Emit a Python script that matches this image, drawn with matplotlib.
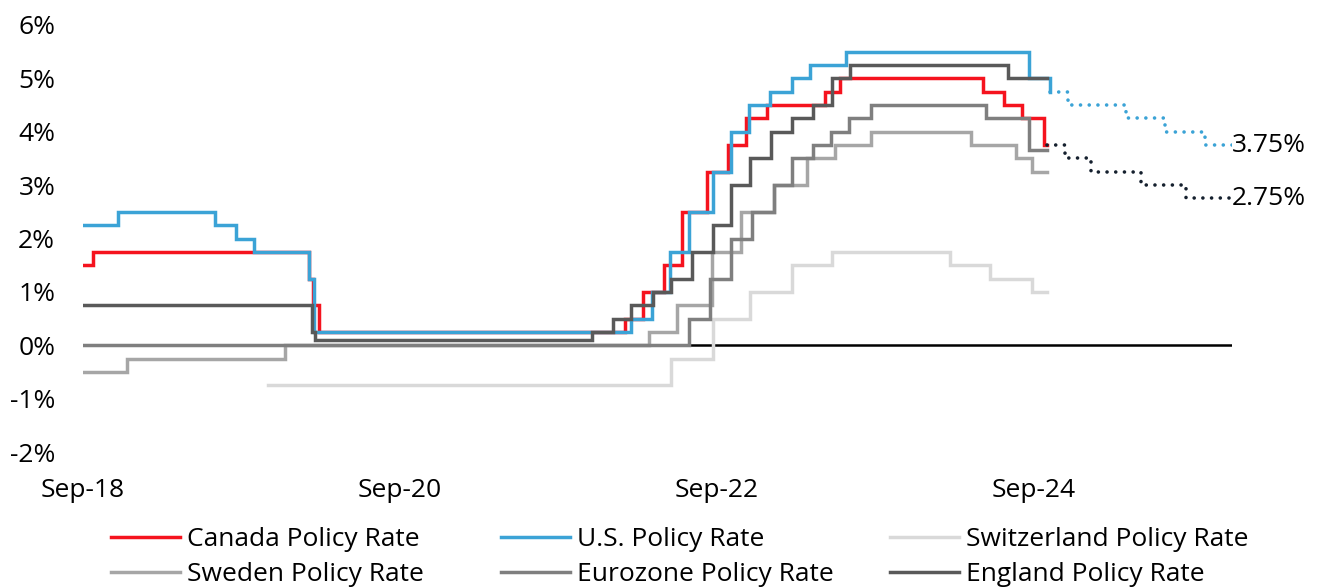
"""
Policy rates of six central banks, Sep-2018 onward, with two dotted
forecast paths (U.S. and Canada) running out to the end of 2025.
"""

import matplotlib.pyplot as plt
import pandas as pd
from matplotlib.ticker import FuncFormatter

plt.rcParams["font.family"] = ["Open Sans", "DejaVu Sans"]

OUT_PATH = "out.png"

START = "2018-09-30"
END_ACTUAL = "2024-10-31"
END_FCST = "2025-12-31"

# change dates and the rate that applies from that date on
CANADA_DATES = ["2018-09-30", "2018-10-24", "2020-03-04", "2020-03-13", "2020-03-27",
                "2022-03-02", "2022-04-13", "2022-06-01", "2022-07-13", "2022-09-07",
                "2022-10-26", "2022-12-07", "2023-01-25", "2023-06-07", "2023-07-12",
                "2024-06-05", "2024-07-24", "2024-09-04", "2024-10-23"]
CANADA_RATES = [1.50, 1.75, 1.25, 0.75, 0.25,
                0.50, 1.00, 1.50, 2.50, 3.25,
                3.75, 4.25, 4.50, 4.75, 5.00,
                4.75, 4.50, 4.25, 3.75]

US_DATES = ["2018-09-30", "2018-12-19", "2019-07-31", "2019-09-18", "2019-10-30",
            "2020-03-03", "2020-03-15", "2022-03-16", "2022-05-04", "2022-06-15",
            "2022-07-27", "2022-09-21", "2022-11-02", "2022-12-14", "2023-02-01",
            "2023-03-22", "2023-05-03", "2023-07-26", "2024-09-18", "2024-11-07"]
US_RATES = [2.25, 2.50, 2.25, 2.00, 1.75,
            1.25, 0.25, 0.50, 1.00, 1.75,
            2.50, 3.25, 4.00, 4.50, 4.75,
            5.00, 5.25, 5.50, 5.00, 4.75]

SWISS_DATES = ["2019-11-30", "2022-06-16", "2022-09-22", "2022-12-15", "2023-03-23",
               "2023-06-22", "2024-03-21", "2024-06-20", "2024-09-26"]
SWISS_RATES = [-0.75, -0.25, 0.50, 1.00, 1.50,
               1.75, 1.50, 1.25, 1.00]

SWEDEN_DATES = ["2018-09-30", "2019-01-09", "2020-01-08", "2022-04-28", "2022-06-30",
                "2022-09-20", "2022-11-24", "2023-02-08", "2023-04-26", "2023-06-29",
                "2023-09-20", "2024-05-08", "2024-08-20", "2024-09-25"]
SWEDEN_RATES = [-0.50, -0.25, 0.00, 0.25, 0.75,
                1.75, 2.50, 3.00, 3.50, 3.75,
                4.00, 3.75, 3.50, 3.25]

EURO_DATES = ["2018-09-30", "2022-07-27", "2022-09-14", "2022-11-02", "2022-12-21",
              "2023-02-08", "2023-03-22", "2023-05-10", "2023-06-21", "2023-08-02",
              "2023-09-20", "2024-06-12", "2024-09-18"]
EURO_RATES = [0.00, 0.50, 1.25, 2.00, 2.50,
              3.00, 3.50, 3.75, 4.00, 4.25,
              4.50, 4.25, 3.65]

ENGLAND_DATES = ["2018-09-30", "2020-03-11", "2020-03-19", "2021-12-16", "2022-02-03",
                 "2022-03-17", "2022-05-05", "2022-06-16", "2022-08-04", "2022-09-22",
                 "2022-11-03", "2022-12-15", "2023-02-02", "2023-03-23", "2023-05-11",
                 "2023-06-22", "2023-08-03", "2024-08-01"]
ENGLAND_RATES = [0.75, 0.25, 0.10, 0.25, 0.50,
                 0.75, 1.00, 1.25, 1.75, 2.25,
                 3.00, 3.50, 4.00, 4.25, 4.50,
                 5.00, 5.25, 5.00]

US_FCST_DATES = ["2024-11-07", "2024-12-18", "2025-04-30", "2025-07-30", "2025-10-29"]
US_FCST_RATES = [4.75, 4.50, 4.25, 4.00, 3.75]

CANADA_FCST_DATES = ["2024-10-31", "2024-12-11", "2025-02-10", "2025-06-04", "2025-09-17"]
CANADA_FCST_RATES = [3.75, 3.50, 3.25, 3.00, 2.75]

X_TICKS = ["2018-09-30", "2020-09-30", "2022-09-30", "2024-09-30"]
X_TICK_LABELS = ["Sep-18", "Sep-20", "Sep-22", "Sep-24"]
Y_TICKS = [-2, -1, 0, 1, 2, 3, 4, 5, 6]

RED = "#F5131E"
BLUE = "#3BA3D6"
SWISS_GREY = "#D9D9D9"
SWEDEN_GREY = "#A6A6A6"
EURO_GREY = "#7F7F7F"
ENGLAND_GREY = "#595959"
NAVY = "#15202E"

LW = 2.5
FS = 19


def steps(dates, rates, end=None):
    """Turn change points into a series that steps-post can draw to `end`."""
    x = list(pd.to_datetime(dates))
    y = list(rates)
    if end is not None:
        x.append(pd.Timestamp(end))
        y.append(y[-1])
    return x, y


def main() -> None:
    fig = plt.figure(figsize=(13.17, 5.88), dpi=100)
    ax = fig.add_axes([83 / 1317, 1 - 452 / 588, (1232 - 83) / 1317, (452 - 25) / 588])

    ax.axhline(0, color="black", lw=1.8, zorder=1)

    series = [
        ("Canada Policy Rate", CANADA_DATES, CANADA_RATES, END_ACTUAL, RED),
        ("U.S. Policy Rate", US_DATES, US_RATES, None, BLUE),
        ("Switzerland Policy Rate", SWISS_DATES, SWISS_RATES, END_ACTUAL, SWISS_GREY),
        ("Sweden Policy Rate", SWEDEN_DATES, SWEDEN_RATES, END_ACTUAL, SWEDEN_GREY),
        ("Eurozone Policy Rate", EURO_DATES, EURO_RATES, END_ACTUAL, EURO_GREY),
        ("England Policy Rate", ENGLAND_DATES, ENGLAND_RATES, END_ACTUAL, ENGLAND_GREY),
    ]
    handles = {}
    for z, (name, d, r, end, color) in enumerate(series):
        x, y = steps(d, r, end)
        (line,) = ax.plot(x, y, drawstyle="steps-post", color=color, lw=LW,
                          label=name, zorder=2 + z, solid_joinstyle="miter")
        handles[name] = line

    # forecast paths
    dot_style = (0, (0.01, 2.4))
    for d, r, color in [(US_FCST_DATES, US_FCST_RATES, BLUE),
                        (CANADA_FCST_DATES, CANADA_FCST_RATES, NAVY)]:
        x, y = steps(d, r, END_FCST)
        ax.plot(x, y, drawstyle="steps-post", color=color, lw=2.6,
                linestyle=dot_style, dash_capstyle="round", zorder=10)
        ax.annotate(f"{r[-1]:.2f}%", xy=(x[-1], y[-1]), xytext=(0, 0),
                    textcoords="offset points", ha="left", va="center",
                    fontsize=FS, annotation_clip=False)

    ax.set_xlim(pd.Timestamp(START), pd.Timestamp(END_FCST))
    ax.set_ylim(-2, 6)
    ax.set_xticks(pd.to_datetime(X_TICKS))
    ax.set_xticklabels(X_TICK_LABELS)
    ax.set_yticks(Y_TICKS)
    ax.yaxis.set_major_formatter(FuncFormatter(lambda v, _: f"{v:.0f}%"))
    ax.tick_params(axis="both", length=0, labelsize=FS)
    ax.tick_params(axis="y", pad=20)
    ax.tick_params(axis="x", pad=19)
    for s in ax.spines.values():
        s.set_visible(False)

    # three one-column legends, one per column of the original layout
    columns = [
        (111, ["Canada Policy Rate", "Sweden Policy Rate"]),
        (501, ["U.S. Policy Rate", "Eurozone Policy Rate"]),
        (890, ["Switzerland Policy Rate", "England Policy Rate"]),
    ]
    for x_px, names in columns:
        fig.legend([handles[n] for n in names], names,
                   loc="upper left", bbox_to_anchor=(x_px / 1317, 1 - 527 / 588),
                   frameon=False, fontsize=FS, handlelength=2.6,
                   handletextpad=0.28, labelspacing=0.38,
                   borderpad=0, borderaxespad=0)

    fig.savefig(OUT_PATH, dpi=100)


if __name__ == "__main__":
    main()
